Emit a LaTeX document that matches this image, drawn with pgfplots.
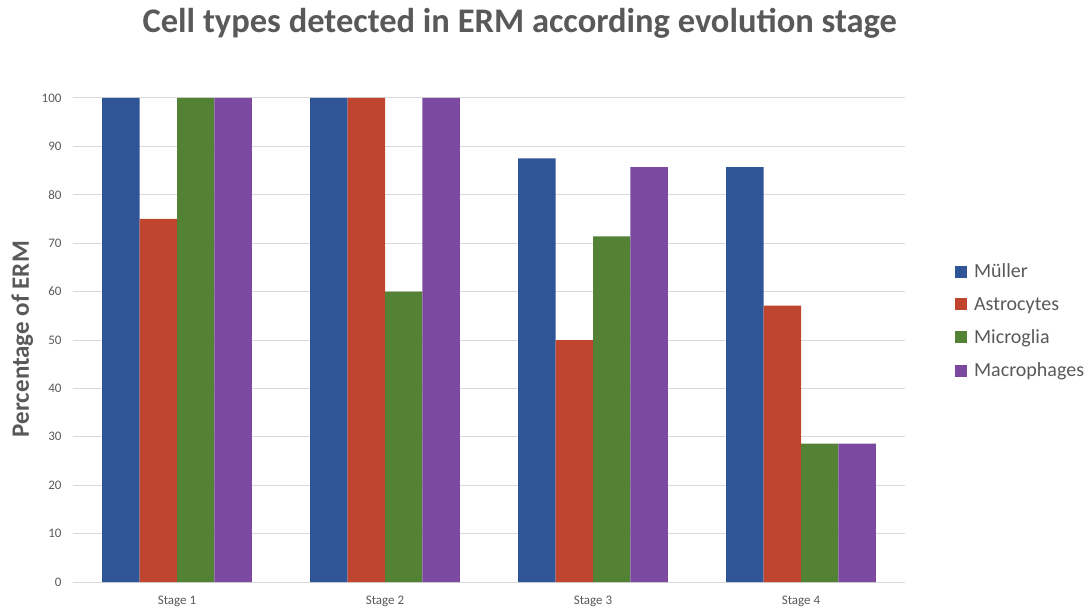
\documentclass[border=0pt]{standalone}
\usepackage{pgfplots}
\pgfplotsset{compat=1.18}
\usepackage{fontspec}
\setmainfont{Carlito}

\definecolor{muller}{HTML}{2F5597}
\definecolor{astro}{HTML}{C0452F}
\definecolor{micro}{HTML}{548235}
\definecolor{macro}{HTML}{7B4AA0}
\definecolor{txt}{HTML}{595959}
\definecolor{gridc}{HTML}{D9D9D9}

\begin{document}
\begin{tikzpicture}
\useasboundingbox (0,0) rectangle (1091pt,611pt);
\begin{axis}[
  at={(73pt,29pt)}, anchor=south west,
  scale only axis, width=832pt, height=484pt,
  ybar=0pt, bar width=0.18,
  xmin=-0.5, xmax=3.5, ymin=0, ymax=100,
  xtick={0,1,2,3},
  xticklabels={Stage 1, Stage 2, Stage 3, Stage 4},
  ytick={0,10,...,100},
  axis line style={draw=none},
  major tick length=0pt,
  ymajorgrids, xmajorgrids=false,
  major grid style={draw=gridc, line width=1pt},
  /pgf/number format/assume math mode=true,
  tick label style={color=txt, font=\fontsize{13}{15}\selectfont},
  yticklabel style={xshift=-8pt},
  xticklabel style={yshift=-11pt},
  ylabel={Percentage of ERM},
  ylabel style={at={(axis description cs:-0.061,0.502)}, anchor=center,
    font=\fontsize{25}{30}\bfseries, color=txt},
  title={Cell types detected in ERM according evolution stage},
  title style={at={(axis description cs:0.537,1.141)}, anchor=center,
    font=\fontsize{34.5}{40}\bfseries, color=txt},
  legend style={at={(axis description cs:1.060,0.539)}, anchor=west,
    draw=none, fill=none, font=\fontsize{20}{24}\selectfont, text=txt,
    row sep=14pt, inner sep=0pt,
    /tikz/every odd column/.append style={column sep=5pt}},
  legend cell align=left,
  legend image code/.code={\fill[#1] (0pt,-6pt) rectangle (12pt,6pt);},
]
\addplot[fill=muller, draw=none] coordinates {(0,100) (1,100) (2,87.5) (3,85.7)};
\addplot[fill=astro, draw=none] coordinates {(0,75) (1,100) (2,50) (3,57.1)};
\addplot[fill=micro, draw=none] coordinates {(0,100) (1,60) (2,71.4) (3,28.6)};
\addplot[fill=macro, draw=none] coordinates {(0,100) (1,100) (2,85.7) (3,28.6)};
\legend{Müller, Astrocytes, Microglia, Macrophages}
\end{axis}
\end{tikzpicture}
\end{document}
